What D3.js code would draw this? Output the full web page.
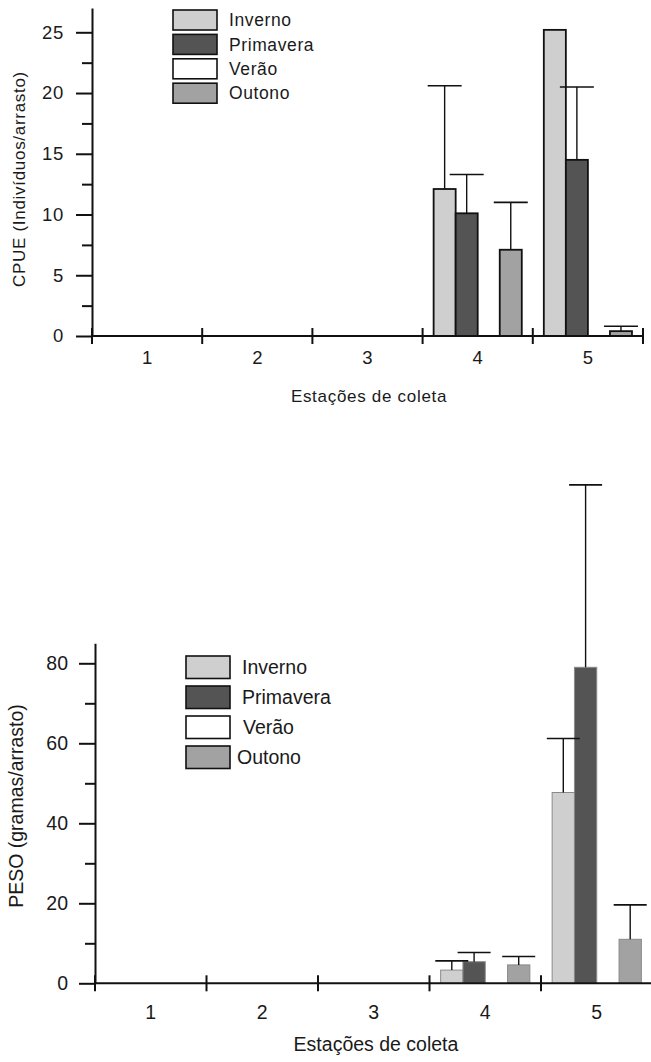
<!DOCTYPE html>
<html>
<head>
<meta charset="utf-8">
<script src="https://cdn.jsdelivr.net/npm/d3@7"></script>
<style>
  html, body { margin: 0; padding: 0; background: #fff; }
  svg { display: block; font-family: "Liberation Sans", Arial, Helvetica, sans-serif; }
  text { fill: #1a1a1a; }
</style>
</head>
<body>
<svg id="chart" width="651" height="1062"></svg>
<script>
// Sampling stations and seasons
const stations = ["1", "2", "3", "4", "5"];
const seasons = ["Inverno", "Primavera", "Verão", "Outono"];

// CPUE (individuals per trawl): means and standard deviations per season, by station
const cpueInverno   = [0, 0, 0, 12.1, 25.2];
const cpuePrimavera = [0, 0, 0, 10.1, 14.5];
const cpueVerao     = [0, 0, 0, 0, 0];
const cpueOutono    = [0, 0, 0, 7.1, 0.4];
const cpueErrInverno   = [0, 0, 0, 8.5, 0];
const cpueErrPrimavera = [0, 0, 0, 3.2, 6.0];
const cpueErrVerao     = [0, 0, 0, 0, 0];
const cpueErrOutono    = [0, 0, 0, 3.9, 0.4];

// Weight (grams per trawl): means and standard deviations per season, by station
const pesoInverno   = [0, 0, 0, 3.3, 47.7];
const pesoPrimavera = [0, 0, 0, 5.4, 79.0];
const pesoVerao     = [0, 0, 0, 0, 0];
const pesoOutono    = [0, 0, 0, 4.6, 11.0];
const pesoErrInverno   = [0, 0, 0, 2.3, 13.5];
const pesoErrPrimavera = [0, 0, 0, 2.3, 45.6];
const pesoErrVerao     = [0, 0, 0, 0, 0];
const pesoErrOutono    = [0, 0, 0, 2.1, 8.6];

// Axis ticks
const cpueMajorTicks = [0, 5, 10, 15, 20, 25];
const cpueMinorTicks = [2.5, 7.5, 12.5, 17.5, 22.5];
const pesoMajorTicks = [0, 20, 40, 60, 80];
const pesoMinorTicks = [10, 30, 50, 70];

const seasonFill = {
  "Inverno": "#cfcfcf",
  "Primavera": "#545454",
  "Verão": "#ffffff",
  "Outono": "#a2a2a2"
};

function buildRows(means, errs) {
  const rows = [];
  stations.forEach((st, i) => {
    seasons.forEach((se, j) => {
      rows.push({ station: st, season: se, value: means[j][i], err: errs[j][i] });
    });
  });
  return rows;
}

const svg = d3.select("#chart");

function drawPanel(cfg) {
  const g = svg.append("g");
  const x = d3.scaleBand().domain(stations).range(cfg.xRange);
  const inner = d3.scaleBand().domain(seasons).range([0, x.bandwidth()])
    .paddingInner(0).paddingOuter(0.5);
  const y = d3.scaleLinear().domain(cfg.yDomain).range(cfg.yRange);

  const rows = buildRows(cfg.means, cfg.errs).filter(d => d.value > 0);

  // bars
  g.selectAll("rect.bar").data(rows).join("rect")
    .attr("class", "bar")
    .attr("x", d => x(d.station) + inner(d.season))
    .attr("width", inner.bandwidth())
    .attr("y", d => y(d.value))
    .attr("height", d => y(0) - y(d.value))
    .attr("fill", d => seasonFill[d.season])
    .attr("stroke", cfg.barStroke)
    .attr("stroke-width", cfg.barStrokeWidth);

  // error bars (upper only)
  const eb = g.selectAll("g.err").data(rows.filter(d => d.err > 0)).join("g").attr("class", "err");
  const cx = d => x(d.station) + inner(d.season) + inner.bandwidth() / 2;
  eb.append("line")
    .attr("x1", cx).attr("x2", cx)
    .attr("y1", d => y(d.value)).attr("y2", d => y(d.value + d.err))
    .attr("stroke", "#111").attr("stroke-width", 1.4);
  eb.append("line")
    .attr("x1", d => cx(d) - cfg.capWidth / 2).attr("x2", d => cx(d) + cfg.capWidth / 2)
    .attr("y1", d => y(d.value + d.err)).attr("y2", d => y(d.value + d.err))
    .attr("stroke", "#111").attr("stroke-width", 1.6);

  // y axis: major and minor ticks
  const yAxisMajor = d3.axisLeft(y).tickValues(cfg.majorTicks).tickSize(16)
    .tickSizeOuter(0).tickPadding(cfg.tickPad);
  const yAxisMinor = d3.axisLeft(y).tickValues(cfg.minorTicks).tickSize(10)
    .tickSizeOuter(0).tickFormat("");
  const ya = g.append("g").attr("transform", `translate(${cfg.xRange[0]},0)`).call(yAxisMajor);
  g.append("g").attr("transform", `translate(${cfg.xRange[0]},0)`).call(yAxisMinor)
    .select(".domain").remove();
  ya.selectAll("text").style("font-size", cfg.tickFont + "px")
    .style("letter-spacing", cfg.spacing + "px").attr("fill", "#1a1a1a");
  g.selectAll(".tick line").attr("stroke", "#111").attr("stroke-width", 2);
  ya.select(".domain").attr("stroke", "#111").attr("stroke-width", 2);

  // x axis: line, group boundary ticks crossing the axis, station labels
  const y0 = y(0);
  g.append("line")
    .attr("x1", cfg.xRange[0]).attr("x2", cfg.xAxisEnd)
    .attr("y1", y0).attr("y2", y0)
    .attr("stroke", "#111").attr("stroke-width", 2);
  const bounds = stations.map(s => x(s)).concat([x(stations[stations.length - 1]) + x.bandwidth()])
    .filter(v => v <= 651);
  g.selectAll("line.xtick").data(bounds).join("line")
    .attr("class", "xtick")
    .attr("x1", d => d).attr("x2", d => d)
    .attr("y1", y0 - 8).attr("y2", y0 + 8)
    .attr("stroke", "#111").attr("stroke-width", 2);
  g.selectAll("text.xlab").data(stations).join("text")
    .attr("class", "xlab")
    .attr("x", d => x(d) + x.bandwidth() / 2)
    .attr("y", cfg.xLabelY)
    .attr("text-anchor", "middle")
    .style("font-size", cfg.tickFont + "px")
    .text(d => d);

  // axis titles
  g.append("text")
    .attr("x", cfg.xTitle[0]).attr("y", cfg.xTitle[1])
    .attr("text-anchor", "middle")
    .style("font-size", cfg.titleFont + "px")
    .style("letter-spacing", cfg.spacing + "px")
    .text("Estações de coleta");
  g.append("text")
    .attr("transform", `translate(${cfg.yTitle[0]},${cfg.yTitle[1]}) rotate(-90)`)
    .attr("text-anchor", "middle")
    .style("font-size", cfg.titleFont + "px")
    .style("letter-spacing", cfg.spacing + "px")
    .text(cfg.yTitleText);

  // legend
  const lg = g.append("g");
  const items = lg.selectAll("g").data(seasons).join("g")
    .attr("transform", (d, i) => `translate(${cfg.legend.x},${cfg.legend.y + i * cfg.legend.step})`);
  items.append("rect")
    .attr("width", 44).attr("height", cfg.legend.h)
    .attr("fill", d => seasonFill[d])
    .attr("stroke", "#111").attr("stroke-width", 1.6);
  items.append("text")
    .attr("x", (d, i) => cfg.legend.textX[i])
    .attr("y", cfg.legend.h / 2)
    .attr("dy", "0.36em")
    .style("font-size", cfg.legend.font + "px")
    .style("letter-spacing", cfg.legend.spacing + "px")
    .text(d => d);
}

// Panel A: CPUE
drawPanel({
  means: [cpueInverno, cpuePrimavera, cpueVerao, cpueOutono],
  errs: [cpueErrInverno, cpueErrPrimavera, cpueErrVerao, cpueErrOutono],
  xRange: [92, 643], xAxisEnd: 643,
  yDomain: [0, 27], yRange: [336, 8],
  majorTicks: cpueMajorTicks, minorTicks: cpueMinorTicks,
  barStroke: "#111", barStrokeWidth: 1.8, capWidth: 34,
  tickFont: 18.5, tickPad: 12, titleFont: 17, spacing: 0.7,
  xLabelY: 364, xTitle: [369, 402],
  yTitle: [25, 179], yTitleText: "CPUE (Indivíduos/arrasto)",
  legend: { x: 173, y: 10, step: 24.4, h: 20, font: 17.5, spacing: 0.6, textX: [56, 56, 56, 56] }
});

// Panel B: PESO
drawPanel({
  means: [pesoInverno, pesoPrimavera, pesoVerao, pesoOutono],
  errs: [pesoErrInverno, pesoErrPrimavera, pesoErrVerao, pesoErrOutono],
  xRange: [95, 652.5], xAxisEnd: 651,
  yDomain: [0, 85], yRange: [983.3, 643.3],
  majorTicks: pesoMajorTicks, minorTicks: pesoMinorTicks,
  barStroke: "#8a8a8a", barStrokeWidth: 1, capWidth: 33,
  tickFont: 19.5, tickPad: 11, titleFont: 19.5, spacing: 0,
  xLabelY: 1019, xTitle: [376, 1051],
  yTitle: [23, 806], yTitleText: "PESO (gramas/arrasto)",
  legend: { x: 186, y: 656, step: 30, h: 22.5, font: 19.5, spacing: 0, textX: [56, 56, 57, 51] }
});
</script>
</body>
</html>
